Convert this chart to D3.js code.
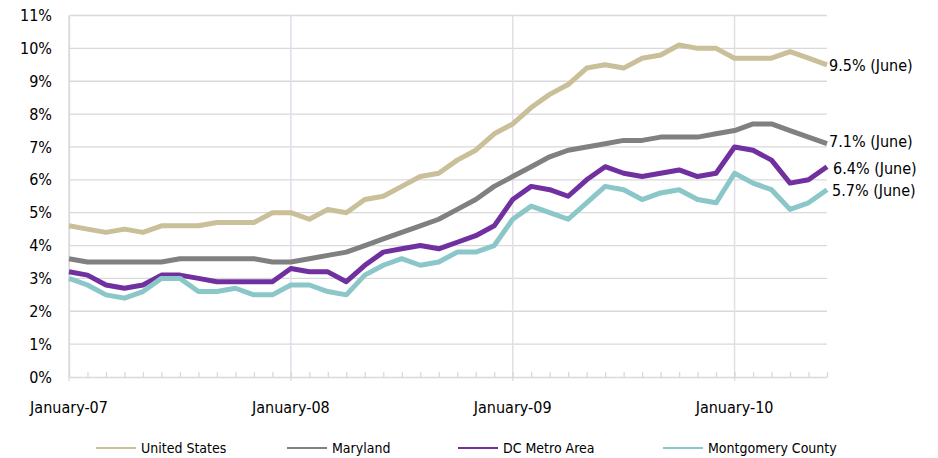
<!DOCTYPE html>
<html lang="en">
<head>
<meta charset="utf-8">
<title>Unemployment rate</title>
<script src="https://d3js.org/d3.v7.min.js"></script>
<style>
  body { margin: 0; background: #fff; }
  text { font-family: "Liberation Sans Narrow", "DejaVu Sans Condensed", "Liberation Sans", sans-serif; fill: #000; }
</style>
</head>
<body>
<script>
// monthly data, January 2007 .. June 2010
var months = d3.range(42);
var tickLabels = ['January-07', 'January-08', 'January-09', 'January-10'];
var seriesNames = ['United States', 'Maryland', 'DC Metro Area', 'Montgomery County'];
var seriesColors = ['#c9bf98', '#808080', '#7030a0', '#8bc7c8'];
var endLabels = ['9.5% (June)', '7.1% (June)', '6.4% (June)', '5.7% (June)'];

var unitedStates = [4.6, 4.5, 4.4, 4.5, 4.4, 4.6, 4.6, 4.6, 4.7, 4.7, 4.7, 5.0,
  5.0, 4.8, 5.1, 5.0, 5.4, 5.5, 5.8, 6.1, 6.2, 6.6, 6.9, 7.4,
  7.7, 8.2, 8.6, 8.9, 9.4, 9.5, 9.4, 9.7, 9.8, 10.1, 10.0, 10.0,
  9.7, 9.7, 9.7, 9.9, 9.7, 9.5];
var maryland = [3.6, 3.5, 3.5, 3.5, 3.5, 3.5, 3.6, 3.6, 3.6, 3.6, 3.6, 3.5,
  3.5, 3.6, 3.7, 3.8, 4.0, 4.2, 4.4, 4.6, 4.8, 5.1, 5.4, 5.8,
  6.1, 6.4, 6.7, 6.9, 7.0, 7.1, 7.2, 7.2, 7.3, 7.3, 7.3, 7.4,
  7.5, 7.7, 7.7, 7.5, 7.3, 7.1];
var dcMetro = [3.2, 3.1, 2.8, 2.7, 2.8, 3.1, 3.1, 3.0, 2.9, 2.9, 2.9, 2.9,
  3.3, 3.2, 3.2, 2.9, 3.4, 3.8, 3.9, 4.0, 3.9, 4.1, 4.3, 4.6,
  5.4, 5.8, 5.7, 5.5, 6.0, 6.4, 6.2, 6.1, 6.2, 6.3, 6.1, 6.2,
  7.0, 6.9, 6.6, 5.9, 6.0, 6.4];
var montgomery = [3.0, 2.8, 2.5, 2.4, 2.6, 3.0, 3.0, 2.6, 2.6, 2.7, 2.5, 2.5,
  2.8, 2.8, 2.6, 2.5, 3.1, 3.4, 3.6, 3.4, 3.5, 3.8, 3.8, 4.0,
  4.8, 5.2, 5.0, 4.8, 5.3, 5.8, 5.7, 5.4, 5.6, 5.7, 5.4, 5.3,
  6.2, 5.9, 5.7, 5.1, 5.3, 5.7];
var allSeries = [unitedStates, maryland, dcMetro, montgomery];

var width = 938, height = 458;
var svg = d3.select('body').append('svg')
  .attr('width', width).attr('height', height);

var x = d3.scaleLinear().domain([0, 41]).range([69, 827]);
var y = d3.scaleLinear().domain([0, 11]).range([377, 15.5]);

// horizontal grid
svg.append('g').selectAll('line').data(d3.range(1, 12)).enter()
  .append('line')
  .attr('x1', 69).attr('x2', 827)
  .attr('y1', function (d) { return y(d); }).attr('y2', function (d) { return y(d); })
  .attr('stroke', '#d9d9d9').attr('stroke-width', 1.3);

// vertical grid at each January
svg.append('g').selectAll('line').data([0, 12, 24, 36]).enter()
  .append('line')
  .attr('x1', function (d) { return x(d); }).attr('x2', function (d) { return x(d); })
  .attr('y1', 15.5).attr('y2', 381)
  .attr('stroke', '#e2dde9').attr('stroke-width', 1.5);

// x axis with monthly ticks pointing up
var xAxis = d3.axisBottom(x).tickValues(months).tickSizeInner(-5).tickSizeOuter(0).tickFormat('');
var gx = svg.append('g').attr('transform', 'translate(0,377)').call(xAxis);
gx.select('.domain').attr('stroke', '#d9d9d9').attr('stroke-width', 1.3);
gx.selectAll('.tick line').attr('stroke', '#d9d9d9').attr('stroke-width', 1.3);

svg.append('g').selectAll('text').data(tickLabels).enter()
  .append('text')
  .attr('x', function (d, i) { return x(i * 12); })
  .attr('y', 413)
  .attr('text-anchor', 'middle')
  .style('font-size', '16px')
  .text(function (d) { return d; });

// y axis labels
var yAxis = d3.axisLeft(y).tickValues(d3.range(0, 12)).tickSize(0).tickPadding(17)
  .tickFormat(function (d) { return d + '%'; });
var gy = svg.append('g').attr('transform', 'translate(69,0)').call(yAxis);
gy.select('.domain').attr('stroke', '#d9d9d9').attr('stroke-width', 1.3);
gy.selectAll('text').style('font-size', '16px').attr('fill', '#000')
  .style('font-family', '"Liberation Sans Narrow", "DejaVu Sans Condensed", sans-serif');

// lines
var line = d3.line()
  .x(function (d, i) { return x(i); })
  .y(function (d) { return y(d); });

svg.append('g').selectAll('path').data(allSeries).enter()
  .append('path')
  .attr('d', line)
  .attr('fill', 'none')
  .attr('stroke', function (d, i) { return seriesColors[i]; })
  .attr('stroke-width', 5)
  .attr('stroke-linejoin', 'round');

// end labels
var labelOffsets = [[2, 1], [2, -2], [6, 2], [5, 1]];
svg.append('g').selectAll('text').data(endLabels).enter()
  .append('text')
  .attr('x', function (d, i) { return x(41) + labelOffsets[i][0]; })
  .attr('y', function (d, i) { return y(allSeries[i][41]) + labelOffsets[i][1]; })
  .attr('dy', '0.35em')
  .style('font-size', '16px')
  .text(function (d) { return d; });

// legend
var legendX = [96, 287, 458, 663];
var legend = svg.append('g').selectAll('g').data(seriesNames).enter()
  .append('g')
  .attr('transform', function (d, i) { return 'translate(' + legendX[i] + ',448)'; });
legend.append('line')
  .attr('x1', 0).attr('x2', 40)
  .attr('stroke', function (d, i) { return seriesColors[i]; })
  .attr('stroke-width', 2);
legend.append('text')
  .attr('x', 45).attr('dy', '0.35em')
  .style('font-size', '14px')
  .text(function (d) { return d; });
</script>
</body>
</html>
